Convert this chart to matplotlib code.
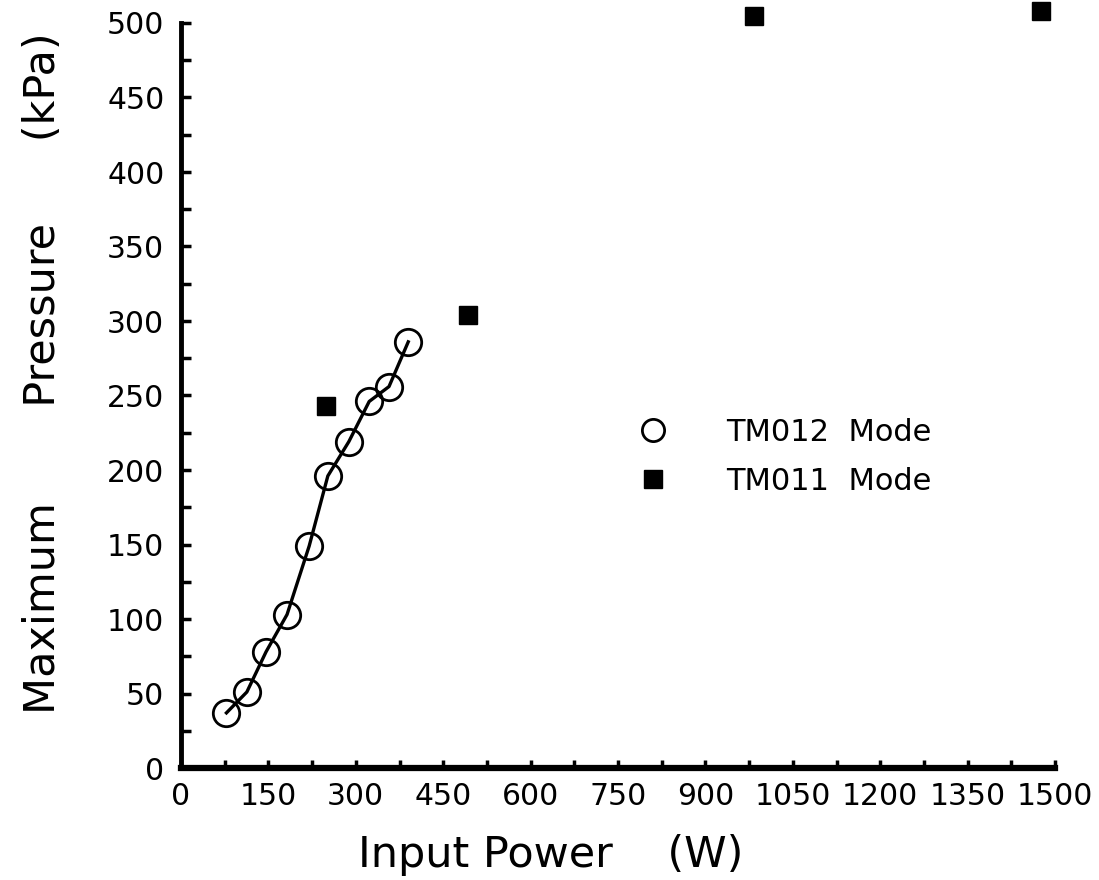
import matplotlib
matplotlib.use("Agg")
import matplotlib.pyplot as plt
from matplotlib.ticker import MultipleLocator
from matplotlib.lines import Line2D

# TM012 mode (open circles, connected by a line)
tm012_power = [78, 113, 146, 182, 220, 252, 288, 323, 357, 390]
tm012_pressure = [37, 51, 78, 103, 149, 196, 219, 246, 256, 286]

# TM011 mode (filled squares)
tm011_power = [249, 492, 983, 1476]
tm011_pressure = [243, 304, 505, 508]

x_ticks = [0, 150, 300, 450, 600, 750, 900, 1050, 1200, 1350, 1500]
x_tick_labels = ["0", "150", "300", "450", "600", "750", "900", "1050", "1200", "1350", "1500"]
y_ticks = [0, 50, 100, 150, 200, 250, 300, 350, 400, 450, 500]
series_labels = ["TM012  Mode", "TM011  Mode"]

plt.rcParams['font.family'] = ['DejaVu Sans']

fig = plt.figure(figsize=(10.99, 8.8), dpi=100)
ax = fig.add_axes([181/1099, 112/880, 874/1099, 745/880])

ax.plot(tm012_power, tm012_pressure, color='black', lw=2.4, marker='o',
        markersize=19, markerfacecolor='none', markeredgecolor='black',
        markeredgewidth=2.0, clip_on=False, zorder=3)
ax.plot(tm011_power, tm011_pressure, linestyle='none', marker='s',
        markersize=13.5, color='black', clip_on=False, zorder=3)

ax.set_xlim(0, 1500)
ax.set_ylim(0, 500)
ax.set_xticks(x_ticks)
ax.set_xticklabels(x_tick_labels)
ax.set_yticks(y_ticks)
ax.xaxis.set_minor_locator(MultipleLocator(75))
ax.yaxis.set_minor_locator(MultipleLocator(25))

for s in ['top', 'right']:
    ax.spines[s].set_visible(False)
ax.spines['left'].set_linewidth(3.5)
ax.spines['bottom'].set_linewidth(4.5)

ax.tick_params(axis='both', which='both', direction='in', width=2.5, color='black')
ax.tick_params(axis='x', which='both', length=6, pad=10, labelsize=21.5)
ax.tick_params(axis='y', which='both', length=7, pad=12, labelsize=21.5)

ax.set_xlabel('Input Power    (W)', fontsize=31, va='baseline')
ax.xaxis.set_label_coords((551 - 181) / 874, (768 - 867) / 745)
ax.set_ylabel('Maximum       Pressure      (kPa)', fontsize=31, va='baseline')
ax.yaxis.set_label_coords((55 - 181) / 874, (768 - 373) / 745)

handles = [
    Line2D([], [], linestyle='none', marker='o', markersize=16,
           markerfacecolor='none', markeredgecolor='black', markeredgewidth=2.0),
    Line2D([], [], linestyle='none', marker='s', markersize=12.5, color='black'),
]
ax.legend(handles, series_labels, loc='upper left',
          bbox_to_anchor=((638 - 181) / 874, (768 - 418) / 745),
          frameon=False, fontsize=22, handlelength=1.0, handletextpad=1.9,
          labelspacing=0.65, borderpad=0, borderaxespad=0)

fig.savefig('out.png', dpi=100)
